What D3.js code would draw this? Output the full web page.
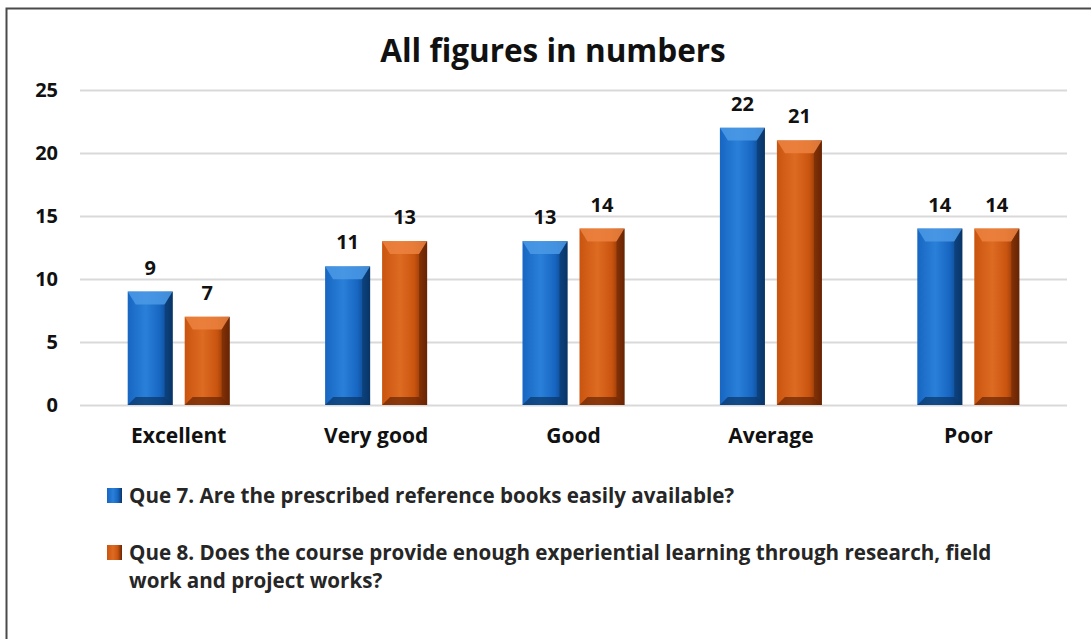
<!DOCTYPE html>
<html>
<head>
<meta charset="utf-8">
<script src="https://cdn.jsdelivr.net/npm/d3@7"></script>
<style>
  body { margin: 0; background: #fff; }
  svg { display: block; font-family: "Open Sans", Lato, sans-serif; }
</style>
</head>
<body>
<svg id="chart" width="1091" height="639"></svg>
<script>
const categories = ["Excellent", "Very good", "Good", "Average", "Poor"]
const que7 = [9, 11, 13, 22, 14]
const que8 = [7, 13, 14, 21, 14]
const yTicks = [0, 5, 10, 15, 20, 25]
const seriesNames = [
  "Que 7. Are the prescribed reference books easily available?",
  "Que 8. Does the course provide enough experiential learning through research, field",
  "work and project works?"
]

const svg = d3.select("#chart")
const W = 1091, H = 639

// outer frame
svg.append("rect")
  .attr("x", 6.5).attr("y", 8.5)
  .attr("width", W + 10).attr("height", H + 10)
  .attr("fill", "#fff")
  .attr("stroke", "#4a4a4a").attr("stroke-width", 2)

// gradients for the bevelled bars
const defs = svg.append("defs")
const palettes = [
  { id: "blue", dark: "#0a3566", mid: "#1766c2", light: "#2a80d8", top: "#4b9ae6" },
  { id: "orange", dark: "#682404", mid: "#c9540f", light: "#de6b22", top: "#ec8240" }
]
palettes.forEach(p => {
  const g = defs.append("linearGradient").attr("id", "grad-" + p.id)
    .attr("x1", "0%").attr("y1", "0%").attr("x2", "100%").attr("y2", "0%")
  g.append("stop").attr("offset", "0%").attr("stop-color", p.mid)
  g.append("stop").attr("offset", "40%").attr("stop-color", p.light)
  g.append("stop").attr("offset", "72%").attr("stop-color", p.mid)
  g.append("stop").attr("offset", "100%").attr("stop-color", p.dark)
})

const plotLeft = 80, plotRight = 1067
const plotTop = 90, plotBottom = 405
const width = plotRight - plotLeft

const x = d3.scaleBand().domain(categories).range([plotLeft, plotRight]).padding(0)
const y = d3.scaleLinear().domain([0, 25]).range([plotBottom, plotTop])

// title
svg.append("text")
  .attr("x", 553).attr("y", 62)
  .attr("text-anchor", "middle")
  .attr("font-size", "31.5px").attr("font-weight", "bold")
  .attr("fill", "#111")
  .text("All figures in numbers")

// grid + y labels
const yAxis = d3.axisLeft(y).tickValues(yTicks).tickSize(-width).tickPadding(22)
const gy = svg.append("g")
  .attr("transform", `translate(${plotLeft},0)`)
  .call(yAxis)
gy.select(".domain").remove()
gy.selectAll(".tick line").attr("stroke", "#d9d9d9").attr("stroke-width", 2)
gy.selectAll(".tick text")
  .attr("font-size", "20px").attr("font-weight", "bold")
  .attr("fill", "#111").attr("font-family", "'Open Sans', sans-serif")

// category labels
const xAxis = d3.axisBottom(x).tickSize(0).tickPadding(23)
const gx = svg.append("g")
  .attr("transform", `translate(0,${plotBottom})`)
  .call(xAxis)
gx.select(".domain").remove()
gx.selectAll(".tick text")
  .attr("font-size", "21px").attr("font-weight", "bold")
  .attr("fill", "#111").attr("font-family", "'Open Sans', sans-serif")

// bars
const barW = 45, gap = 12
const series = [que7, que8]
series.forEach((vals, si) => {
  const p = palettes[si]
  const offset = si === 0 ? -(gap / 2 + barW) : gap / 2
  const g = svg.append("g").selectAll("g")
    .data(categories.map((c, i) => ({ c, v: vals[i] })))
    .enter().append("g")
  g.each(function (d) {
    const grp = d3.select(this)
    const bx = x(d.c) + x.bandwidth() / 2 + offset
    const by = y(d.v)
    const bh = plotBottom - by
    const b = 8
    grp.append("rect")
      .attr("x", bx).attr("y", by)
      .attr("width", barW).attr("height", bh)
      .attr("fill", `url(#grad-${p.id})`)
    // top bevel
    grp.append("polygon")
      .attr("points", [[bx, by], [bx + barW, by], [bx + barW - b, by + b * 1.6], [bx + b, by + b * 1.6]].join(" "))
      .attr("fill", p.top).attr("opacity", 0.85)
    // bottom bevel
    grp.append("polygon")
      .attr("points", [[bx, by + bh], [bx + barW, by + bh], [bx + barW - b, by + bh - b], [bx + b, by + bh - b]].join(" "))
      .attr("fill", p.dark).attr("opacity", 0.7)
    // right edge
    grp.append("polygon")
      .attr("points", [[bx + barW, by], [bx + barW, by + bh], [bx + barW - b, by + bh - b], [bx + barW - b, by + b * 1.6]].join(" "))
      .attr("fill", p.dark).attr("opacity", 0.55)
    grp.append("text")
      .attr("x", bx + barW / 2).attr("y", by - 17)
      .attr("text-anchor", "middle")
      .attr("font-size", "20px").attr("font-weight", "bold")
      .attr("fill", "#111")
      .text(d.v)
  })
})

// legend
const legend = [
  { fill: "grad-blue", lines: [seriesNames[0]], y: 503 },
  { fill: "grad-orange", lines: [seriesNames[1], seriesNames[2]], y: 560 }
]
legend.forEach(l => {
  svg.append("rect")
    .attr("x", 107).attr("y", l.y - 15)
    .attr("width", 15).attr("height", 15)
    .attr("fill", `url(#${l.fill})`)
  l.lines.forEach((t, i) => {
    svg.append("text")
      .attr("x", 129).attr("y", l.y + i * 28)
      .attr("font-size", "20.6px").attr("font-weight", "bold")
      .attr("fill", "#262626")
      .text(t)
  })
})
</script>
</body>
</html>
